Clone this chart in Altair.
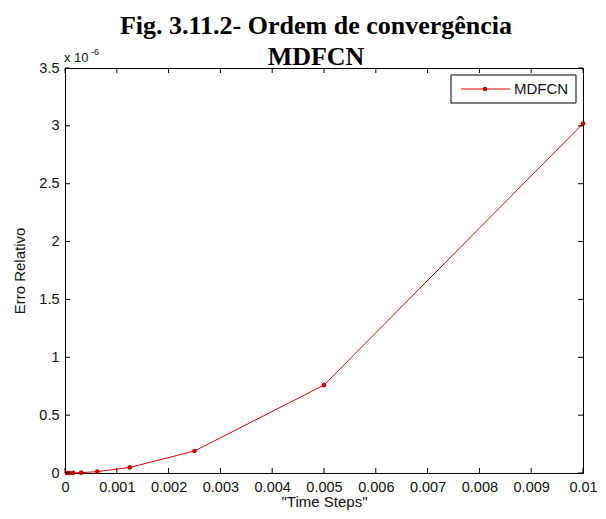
import altair as alt
import pandas as pd

# Data (relative error in units of 1e-6)
steps = [0.01, 0.005, 0.0025, 0.00125, 0.000625, 0.0003125, 0.00015625, 0.000078125, 0.0000390625]
erro = [3.02, 0.76, 0.19, 0.048, 0.012, 0.003, 0.00075, 0.00019, 0.00005]
x_ticks = [0.0, 0.001, 0.002, 0.003, 0.004, 0.005, 0.006, 0.007, 0.008, 0.009, 0.01]
y_ticks = [0.0, 0.5, 1.0, 1.5, 2.0, 2.5, 3.0, 3.5]
series_name = "MDFCN"
title_lines = ["Fig. 3.11.2- Ordem de convergência", "MDFCN"]

W, H = 518, 405
RED = "#e00000"
FONT = "Liberation Sans"

df = pd.DataFrame({"steps": steps, "erro": erro})
xt = pd.DataFrame({"steps": x_ticks})
yt = pd.DataFrame({"erro": y_ticks})

xscale = alt.Scale(domain=[0, 0.01], nice=False, zero=False)
yscale = alt.Scale(domain=[0, 3.5], nice=False, zero=False)
xaxis = alt.Axis(values=x_ticks, format=".3~f", title='"Time Steps"', grid=False,
                 tickSize=0, labelPadding=7, titlePadding=1, labelFlush=False, labelOverlap=False)
yaxis = alt.Axis(values=y_ticks, format="~g", title="Erro Relativo", grid=False,
                 tickSize=0, labelPadding=6, titlePadding=11, labelFlush=False, labelOverlap=False)

line = alt.Chart(df).mark_line(color=RED, strokeWidth=1).encode(
    x=alt.X("steps:Q", scale=xscale, axis=xaxis),
    y=alt.Y("erro:Q", scale=yscale, axis=yaxis),
)
pts = alt.Chart(df).mark_circle(color="#cc0000", size=22, opacity=1).encode(
    x=alt.X("steps:Q", scale=xscale, axis=xaxis), y=alt.Y("erro:Q", scale=yscale, axis=yaxis)
)

tick_b = alt.Chart(xt).mark_rule(color="black", strokeWidth=1).encode(
    x=alt.X("steps:Q", scale=xscale, axis=xaxis), y=alt.value(H), y2=alt.value(H - 5))
tick_t = alt.Chart(xt).mark_rule(color="black", strokeWidth=1).encode(
    x=alt.X("steps:Q", scale=xscale, axis=xaxis), y=alt.value(0), y2=alt.value(5))
tick_l = alt.Chart(yt).mark_rule(color="black", strokeWidth=1).encode(
    y=alt.Y("erro:Q", scale=yscale, axis=yaxis), x=alt.value(0), x2=alt.value(5))
tick_r = alt.Chart(yt).mark_rule(color="black", strokeWidth=1).encode(
    y=alt.Y("erro:Q", scale=yscale, axis=yaxis), x=alt.value(W - 5), x2=alt.value(W))

leg_df = pd.DataFrame({"name": [series_name]})
leg_box = alt.Chart(leg_df).mark_rect(fill="white", stroke="black", strokeWidth=1).encode(
    x=alt.value(386), x2=alt.value(511), y=alt.value(7), y2=alt.value(35))
leg_line = alt.Chart(leg_df).mark_rule(color=RED, strokeWidth=1).encode(
    x=alt.value(396), x2=alt.value(445), y=alt.value(21))
leg_pt = alt.Chart(leg_df).mark_circle(color="#cc0000", size=22, opacity=1).encode(
    x=alt.value(420), y=alt.value(21))
leg_txt = alt.Chart(leg_df).mark_text(font=FONT, fontSize=15, align="left", baseline="middle",
                                      color="#111").encode(
    x=alt.value(449), y=alt.value(21), text="name:N")

exp_df = pd.DataFrame({"a": ["x 10"], "b": ["-6"]})
exp_a = alt.Chart(exp_df).mark_text(font=FONT, fontSize=13, align="left", baseline="middle",
                                    color="#111").encode(x=alt.value(-1), y=alt.value(-10), text="a:N")
exp_b = alt.Chart(exp_df).mark_text(font=FONT, fontSize=9, align="left", baseline="middle",
                                    color="#111").encode(x=alt.value(26), y=alt.value(-16), text="b:N")

chart = alt.layer(
    line, pts, tick_b, tick_t, tick_l, tick_r, leg_box, leg_line, leg_pt, leg_txt, exp_a, exp_b
).properties(
    width=W, height=H,
    background="white",
    title=alt.TitleParams(text=title_lines, font="Liberation Serif", fontSize=26, fontWeight="bold",
                          lineHeight=31, anchor="middle", offset=2, dx=-8, dy=24, color="black"),
    autosize=alt.AutoSizeParams(type="none"),
    padding={"left": 57, "top": 60, "right": 15, "bottom": 38},
).configure_view(stroke="black", strokeWidth=1).configure_axis(
    labelFont=FONT, labelFontSize=14.5, labelColor="#111", titleFont=FONT, titleFontSize=15,
    titleFontWeight="normal", titleColor="#111", domainColor="black", domainWidth=1,
)

chart.save("out.html", embed_options={"renderer": "svg", "actions": False})
